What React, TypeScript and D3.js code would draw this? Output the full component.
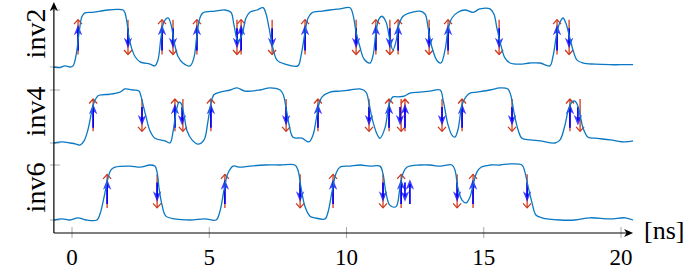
import React from "react";
import * as d3 from "d3";

// time axis, ns
const xTicks = [0, 5, 10, 15, 20];
const xLimits = [-0.66, 20.44];
const panelNames = ["inv2", "inv4", "inv6"];

// measured output waveforms [t (ns), normalized level]
const inv2Wave = [
  [-0.66, 0.0], [-0.44, -0.01], [-0.26, 0.02], [-0.07, 0.0], [0.04, 0.02], [0.15, 0.21], [0.26, 0.61],
  [0.36, 0.88], [0.47, 0.95], [0.73, 0.96], [1.02, 0.98], [1.31, 1.0], [1.64, 1.01], [1.86, 1.0],
  [1.93, 0.95], [2.0, 0.79], [2.08, 0.51], [2.19, 0.3], [2.3, 0.18], [2.48, 0.09], [2.84, 0.05],
  [3.02, 0.02], [3.13, 0.12], [3.24, 0.51], [3.35, 0.79], [3.5, 0.86], [3.61, 0.74], [3.72, 0.44],
  [3.86, 0.19], [4.04, 0.07], [4.3, 0.02], [4.44, 0.16], [4.55, 0.56], [4.66, 0.86], [4.77, 0.95],
  [5.21, 0.98], [5.57, 1.0], [5.79, 0.96], [5.9, 0.74], [6.05, 0.44], [6.19, 0.56], [6.34, 0.86],
  [6.48, 0.96], [6.74, 1.0], [6.96, 1.04], [7.07, 0.93], [7.18, 0.68], [7.32, 0.33], [7.47, 0.12],
  [7.76, 0.05], [8.23, 0.02], [8.34, 0.19], [8.49, 0.61], [8.6, 0.86], [8.74, 0.95], [9.11, 0.98],
  [9.4, 1.0], [9.76, 1.02], [10.13, 1.04], [10.24, 0.91], [10.35, 0.61], [10.49, 0.35], [10.64, 0.14],
  [10.86, 0.07], [10.97, 0.21], [11.07, 0.6], [11.18, 0.84], [11.29, 0.89], [11.44, 0.79], [11.58, 0.47],
  [11.69, 0.3], [11.8, 0.44], [11.91, 0.74], [12.06, 0.89], [12.31, 0.95], [12.68, 0.98], [12.86, 0.93],
  [12.97, 0.7], [13.11, 0.35], [13.3, 0.11], [13.44, 0.07], [13.59, 0.3], [13.7, 0.65], [13.84, 0.86],
  [14.06, 0.96], [14.32, 1.0], [14.61, 0.96], [14.86, 1.02], [15.23, 1.02], [15.37, 0.93], [15.48, 0.68],
  [15.63, 0.37], [15.77, 0.16], [15.96, 0.07], [16.32, 0.05], [16.68, 0.07], [17.05, 0.07], [17.41, 0.02],
  [17.52, 0.18], [17.67, 0.61], [17.78, 0.79], [17.89, 0.86], [17.99, 0.77], [18.11, 0.56], [18.25, 0.3],
  [18.4, 0.12], [18.62, 0.07], [19.05, 0.05], [19.6, 0.04], [19.96, 0.04], [20.44, 0.04],
];

const inv4Wave = [
  [-0.66, 0.0], [-0.36, 0.02], [-0.07, 0.0], [0.15, -0.02], [0.29, -0.04], [0.44, 0.04], [0.58, 0.25],
  [0.73, 0.62], [0.84, 0.81], [0.95, 0.89], [1.09, 0.91], [1.38, 0.92], [1.75, 0.96], [1.93, 1.02],
  [2.22, 1.0], [2.44, 0.98], [2.51, 0.89], [2.59, 0.72], [2.7, 0.49], [2.84, 0.23], [3.02, 0.09],
  [3.39, 0.04], [3.57, 0.0], [3.68, 0.21], [3.79, 0.58], [3.9, 0.77], [3.97, 0.75], [4.08, 0.53],
  [4.19, 0.23], [4.37, 0.06], [4.59, -0.02], [4.81, 0.06], [4.95, 0.4], [5.06, 0.74], [5.17, 0.91],
  [5.39, 0.96], [5.76, 1.0], [6.01, 1.04], [6.3, 0.98], [6.85, 1.0], [7.21, 1.04], [7.58, 1.0],
  [7.69, 0.92], [7.8, 0.66], [7.91, 0.34], [8.05, 0.11], [8.38, 0.09], [8.63, 0.02], [8.78, 0.15],
  [8.89, 0.43], [9.0, 0.74], [9.11, 0.87], [9.4, 0.96], [9.76, 0.98], [10.13, 1.0], [10.49, 1.02],
  [10.71, 0.96], [10.82, 0.75], [10.93, 0.47], [11.11, 0.17], [11.22, 0.09], [11.4, 0.28], [11.55, 0.72],
  [11.69, 0.87], [11.88, 0.87], [12.13, 0.89], [12.31, 0.94], [12.68, 0.96], [13.04, 0.98], [13.41, 1.0],
  [13.52, 0.81], [13.7, 0.34], [13.84, 0.15], [13.95, 0.11], [14.06, 0.25], [14.21, 0.72], [14.35, 0.87],
  [14.5, 0.94], [14.75, 0.96], [15.23, 1.0], [15.59, 1.04], [15.88, 1.02], [15.99, 0.89], [16.1, 0.58],
  [16.25, 0.25], [16.39, 0.09], [16.68, 0.06], [17.05, 0.04], [17.6, 0.0], [17.78, 0.06], [17.96, 0.34],
  [18.07, 0.6], [18.21, 0.77], [18.32, 0.79], [18.43, 0.7], [18.51, 0.53], [18.62, 0.28], [18.8, 0.11],
  [19.05, 0.09], [19.6, 0.06], [20.15, 0.02], [20.44, 0.04],
];

const inv6Wave = [
  [-0.66, 0.0], [-0.36, 0.02], [-0.07, 0.0], [0.22, 0.04], [0.51, 0.0], [0.91, 0.0], [1.02, 0.11],
  [1.17, 0.42], [1.31, 0.76], [1.42, 0.91], [1.57, 0.96], [2.11, 0.98], [2.48, 0.96], [2.84, 1.0],
  [3.02, 0.98], [3.1, 0.87], [3.17, 0.58], [3.28, 0.27], [3.42, 0.07], [3.75, 0.02], [4.3, 0.0],
  [4.85, 0.02], [5.25, 0.0], [5.39, 0.16], [5.54, 0.55], [5.68, 0.85], [5.87, 0.98], [6.12, 0.96],
  [6.48, 0.98], [7.03, 1.0], [7.58, 1.0], [8.12, 1.0], [8.23, 0.91], [8.34, 0.6], [8.49, 0.24],
  [8.67, 0.07], [8.85, 0.04], [9.22, 0.02], [9.33, 0.15], [9.47, 0.51], [9.62, 0.85], [9.76, 0.96],
  [10.13, 0.98], [10.49, 1.0], [10.86, 0.98], [11.22, 0.98], [11.33, 0.84], [11.44, 0.49], [11.58, 0.27],
  [11.8, 0.24], [11.95, 0.6], [12.06, 0.85], [12.2, 0.96], [12.68, 1.0], [13.04, 1.0], [13.41, 0.98],
  [13.84, 1.0], [13.95, 0.91], [14.06, 0.58], [14.21, 0.36], [14.35, 0.31], [14.5, 0.42], [14.61, 0.64],
  [14.75, 0.87], [14.9, 0.96], [15.23, 1.0], [15.59, 1.0], [15.96, 1.02], [16.39, 1.0], [16.5, 0.87],
  [16.61, 0.62], [16.76, 0.31], [16.9, 0.09], [17.12, 0.04], [17.78, 0.0], [18.32, 0.0], [18.87, 0.04],
  [19.6, 0.02], [20.15, 0.04], [20.44, 0.0],
];

// reference edges (red) and detected edges (blue): [t, +1 rise / -1 fall]
const inv2Edges = [
  [0.22, 1], [2.04, -1], [3.28, 1], [3.68, -1], [4.55, 1], [6.01, -1], [6.16, 1], [7.29, -1], [8.49, 1],
  [10.35, -1], [11.07, 1], [11.58, -1], [11.88, 1], [13.01, -1], [13.7, 1], [15.56, -1], [17.67, 1], [18.11, -1],
];
const inv2Detected = inv2Edges;

const inv4Edges = [
  [0.77, 1], [2.55, -1], [3.75, 1], [4.04, -1], [5.06, 1], [7.8, -1], [8.96, 1], [10.82, -1], [11.55, 1],
  [11.99, -1], [12.13, 1], [13.48, -1], [14.21, 1], [16.03, -1], [18.14, 1], [18.51, -1],
];
const inv4Detected = [
  [0.77, 1], [2.55, -1], [3.75, 1], [4.01, -1], [5.06, 1], [7.8, -1], [8.96, 1], [10.82, -1], [11.55, 1],
  [11.95, -1], [12.13, 1], [13.48, -1], [14.21, 1], [16.03, -1], [18.14, 1], [18.43, -1],
];

const inv6Edges = [
  [1.28, 1], [3.1, -1], [5.57, 1], [8.31, -1], [9.51, 1], [11.33, -1], [11.99, 1], [14.03, -1], [14.61, 1], [16.58, -1],
];
const inv6Detected = [
  [1.28, 1], [3.1, -1], [5.57, 1], [8.31, -1], [9.51, 1], [11.33, -1], [11.99, 1], [12.13, -1], [12.31, 1],
  [14.03, -1], [14.61, 1], [16.58, -1],
];

const waves = [inv2Wave, inv4Wave, inv6Wave];
const edges = [inv2Edges, inv4Edges, inv6Edges];
const detected = [inv2Detected, inv4Detected, inv6Detected];

// layout
const panelRanges = [[67, 10], [143, 90], [220, 165]];
const axisY = 233;
const axisTop = 2;
const FONT = "Liberation Serif, DejaVu Serif, serif";
const WAVE = "#0a78c2";
const RED = "#cf3a1e";
const BLUE = "#0000ff";

function redArrow(x: number, y0: number, y1: number, key: string) {
  const d = y1 < y0 ? 1 : -1; // arms go back toward y0
  return (
    <g key={key} stroke={RED} strokeWidth={1.3} fill="none">
      <line x1={x} x2={x} y1={y0} y2={y1} />
      <path d={`M${x - 4},${y1 + d * 4.5} L${x},${y1} L${x + 4},${y1 + d * 4.5}`} strokeLinejoin="round" />
    </g>
  );
}

function blueArrow(x: number, y0: number, y1: number, key: string) {
  const d = y1 < y0 ? 1 : -1;
  return (
    <g key={key}>
      <line x1={x} x2={x} y1={y0} y2={y1 + d * 5} stroke={BLUE} strokeWidth={1.7} />
      <path
        d={`M${x},${y1} L${x + 4.2},${y1 + d * 10.5} L${x},${y1 + d * 7.5} L${x - 4.2},${y1 + d * 10.5} Z`}
        fill={BLUE}
        fillOpacity={0.75}
      />
    </g>
  );
}

export default function App() {
  const x = d3.scaleLinear().domain([0, 20]).range([72, 621]);
  const x0 = x(xLimits[0]);
  const x1 = x(xLimits[1]);

  return (
    <svg width={697} height={274} style={{ position: "absolute", left: 0, top: 0 }}>
      <rect width={697} height={274} fill="#fff" />

      {panelNames.map((name, i) => {
        const y = d3.scaleLinear().domain([0, 1]).range(panelRanges[i]);
        const line = d3
          .line<number[]>()
          .x((d) => x(d[0]))
          .y((d) => y(d[1]))
          .curve(d3.curveCatmullRom.alpha(0.5));
        const mid = (y(0) + y(1)) / 2 - 5;
        return (
          <g key={name}>
            {[0, 1].map((v) => (
              <line key={v} x1={x0 - 4} x2={x0 + 6} y1={y(v)} y2={y(v)} stroke="#a8a8a8" strokeWidth={1} />
            ))}
            <text
              transform={`translate(45,${mid}) rotate(-90)`}
              textAnchor="middle"
              style={{ fontFamily: FONT, fontSize: 28 }}
            >
              {name}
            </text>
            {edges[i].map((e, j) =>
              e[1] > 0
                ? redArrow(x(e[0]), y(0.22), y(0.83), `r${j}`)
                : redArrow(x(e[0]), y(0.83), y(0.22), `r${j}`)
            )}
            {detected[i].map((e, j) =>
              e[1] > 0
                ? blueArrow(x(e[0]), y(0.29), y(0.74), `b${j}`)
                : blueArrow(x(e[0]), y(0.68), y(0.33), `b${j}`)
            )}
            <path d={line(waves[i] as number[][]) || ""} fill="none" stroke={WAVE} strokeWidth={1.3} />
          </g>
        );
      })}

      {/* x axis */}
      {xTicks.map((t) => (
        <g key={t}>
          <line x1={x(t)} x2={x(t)} y1={axisY - 6} y2={axisY + 5} stroke="#a8a8a8" strokeWidth={1} />
          <text x={x(t)} y={265} textAnchor="middle" style={{ fontFamily: FONT, fontSize: 23 }}>
            {t}
          </text>
        </g>
      ))}
      <line x1={x0} x2={x1 - 3} y1={axisY} y2={axisY} stroke="#000" strokeWidth={1.2} />
      <path d={`M${x1},${axisY} L${x1 - 9},${axisY - 4} L${x1 - 6.5},${axisY} L${x1 - 9},${axisY + 4} Z`} fill="#000" />
      <line x1={x0} x2={x0} y1={axisY} y2={axisTop + 3} stroke="#000" strokeWidth={1.2} />
      <path d={`M${x0},${axisTop} L${x0 - 4},${axisTop + 9} L${x0},${axisTop + 6.5} L${x0 + 4},${axisTop + 9} Z`} fill="#000" />
      <text x={644} y={239} style={{ fontFamily: FONT, fontSize: 26 }}>
        [ns]
      </text>
    </svg>
  );
}
